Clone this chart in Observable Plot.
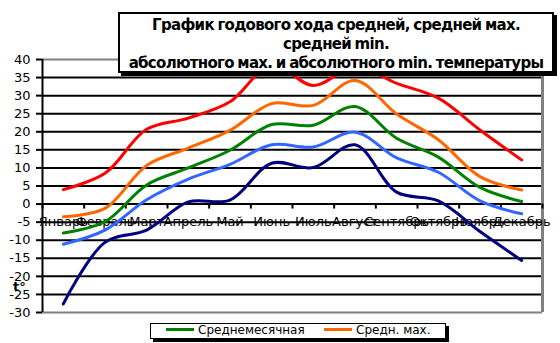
<!DOCTYPE html>
<html>
<head>
<meta charset="utf-8">
<script src="https://cdn.jsdelivr.net/npm/d3@7"></script>
<script src="https://cdn.jsdelivr.net/npm/@observablehq/plot@0.6"></script>
<style>
  html, body { margin: 0; padding: 0; background: #fff; }
  #wrap { position: relative; width: 560px; height: 343px; overflow: hidden; font-family: "DejaVu Sans", sans-serif; }
  #chart { position: absolute; left: 0; top: 0; }
  #title { position: absolute; left: 118px; top: 12px; width: 436px; height: 61px; box-sizing: border-box;
    border: 2px solid #000; box-shadow: 3px 3px 0 #000; background: #fff; text-align: center;
    font: bold 15px "DejaVu Sans", sans-serif; letter-spacing: -0.7px; word-spacing: -1px; line-height: 19px; padding-top: 2px; color: #000; white-space: nowrap; }
  #legend { position: absolute; left: 150px; top: 323px; width: 296px; height: 16px; box-sizing: border-box;
    border: 1.5px solid #000; box-shadow: 3px 3px 0 #000; background: #fff; white-space: nowrap; overflow: hidden;
    font: 12px "DejaVu Sans", sans-serif; color: #000; line-height: 13px; }
  #legend .item { position: absolute; top: 0px; }
  #legend .sw { display: inline-block; width: 28px; height: 3px; vertical-align: middle; margin-right: 4px; position: relative; top: -1px; }
  #ylab { position: absolute; left: 13px; top: 279px; font: bold 13px "DejaVu Sans", sans-serif; color: #000; }
</style>
</head>
<body>
<div id="wrap">
  <div id="chart"></div>
  <div id="ylab">t°</div>
  <div id="title">График годового хода средней, средней мах.<br>средней min.<br>абсолютного мах. и абсолютного min. температуры</div>
  <div id="legend"></div>
</div>
<script>
const months = ["Январь","Февраль","Март","Апрель","Май","Июнь","Июль","Август","Сентябрь","Октябрь","Ноябрь","Декабрь"];
const meanMonthly = [-8, -4.9, 5.3, 10, 14.9, 22, 21.8, 27, 18.2, 13, 4.6, 0.7];
const meanMax     = [-3.5, -1.2, 10.7, 15.5, 20.4, 27.8, 27.3, 34.2, 24.9, 17.8, 7.6, 3.9];
const meanMin     = [-11.1, -7.2, 1.2, 6.9, 11, 16.4, 15.8, 19.9, 12.8, 8.8, 0.9, -2.7];
const absMax      = [4, 8.5, 20.7, 23.8, 28.3, 38.5, 32.8, 38, 33.4, 29.3, 20.5, 12.2];
const absMin      = [-27.6, -10.6, -7.2, 0.6, 1.1, 11.3, 10.1, 16.4, 3.3, 0.9, -7.6, -15.6];
const seriesNames = ["Среднемесячная", "Средн. мах.", "Средн. min.", "Абс. мах.", "Абс. min."];
const seriesColors = ["#008000", "#FF6600", "#3366FF", "#FF0000", "#000080"];
const yTicks = d3.range(-30, 41, 5);

const seriesValues = [meanMonthly, meanMax, meanMin, absMax, absMin];
const rows = seriesValues.flatMap((vals, s) => vals.map((v, i) => ({series: seriesNames[s], pos: i + 0.5, month: months[i], value: v})));
const drawOrder = [4, 2, 0, 1, 3];

const W = 560, H = 343, mT = 59, mB = 31, mL = 42, mR = 18;
const yScale = d3.scaleLinear().domain([-30, 40]).range([H - mB, mT]);
const axisDy = yScale(0) - (H - mB);

const plot = Plot.plot({
  width: W, height: H,
  marginTop: mT, marginBottom: mB, marginLeft: mL, marginRight: mR,
  style: {fontFamily: "DejaVu Sans, sans-serif", background: "transparent", color: "#000"},
  x: {domain: [0, 12], axis: null},
  y: {domain: [-30, 40], axis: null},
  marks: [
    Plot.ruleY(yTicks.filter(d => d > -30 && d < 40), {stroke: "#000", strokeWidth: 2}),
    Plot.ruleY([-30, 40], {stroke: "#808080", strokeWidth: 2}),
    Plot.ruleX([12], {stroke: "#808080", strokeWidth: 3}),
    Plot.ruleX([0], {stroke: "#000", strokeWidth: 2}),
    Plot.axisY({ticks: yTicks, tickSize: 6, tickPadding: 6, strokeWidth: 2, fontSize: 13, label: null,
      tickFormat: d => d < 0 ? "-" + Math.abs(d) : String(d)}),
    Plot.axisX({ticks: d3.range(0, 13), anchor: "bottom", tickSize: 5, strokeWidth: 2, label: null, tickFormat: () => "", dy: axisDy}),
    Plot.axisX({ticks: months.map((m, i) => i + 0.5), anchor: "bottom", tickSize: 0, tickPadding: 13, fontSize: 13, label: null,
      tickFormat: d => months[Math.floor(d)], dy: axisDy}),
    ...drawOrder.map(s => Plot.line(rows.filter(r => r.series === seriesNames[s]),
      {x: "pos", y: "value", stroke: seriesColors[s], strokeWidth: 3, curve: "catmull-rom"}))
  ]
});
document.getElementById("chart").appendChild(plot);

const legend = document.getElementById("legend");
const legendX = [15, 173];
[0, 1].forEach((s, k) => {
  const it = document.createElement("div");
  it.className = "item";
  it.style.left = legendX[k] + "px";
  it.innerHTML = `<span class="sw" style="background:${seriesColors[s]}"></span>${seriesNames[s]}`;
  legend.appendChild(it);
});
</script>
</body>
</html>
